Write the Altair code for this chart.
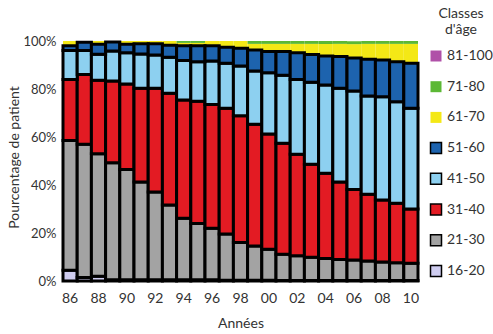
import altair as alt
import pandas as pd

years = ["86", "87", "88", "89", "90", "91", "92", "93", "94", "95", "96", "97", "98",
         "99", "00", "01", "02", "03", "04", "05", "06", "07", "08", "09", "10"]

c16_20 = [4.5, 1.5, 2.0, 0.5, 0.5, 0.5, 0.5, 0.5, 0.5, 0.5, 0.5, 0.3, 0.3,
          0.3, 0.3, 0.2, 0.2, 0.2, 0.2, 0.2, 0.2, 0.2, 0.2, 0.2, 0.2]
c21_30 = [54.0, 55.5, 51.0, 48.8, 46.0, 40.8, 36.6, 31.2, 25.6, 23.5, 21.5, 19.3, 15.7,
          14.3, 12.9, 10.9, 10.3, 9.7, 9.2, 8.8, 8.5, 8.1, 7.7, 7.4, 7.2]
c31_40 = [25.5, 29.0, 30.6, 34.0, 35.6, 39.0, 43.2, 46.5, 49.3, 50.9, 51.5, 52.4, 52.9,
          50.7, 48.1, 46.3, 42.3, 38.7, 35.5, 32.3, 29.4, 27.8, 25.9, 24.8, 22.6]
c41_50 = [12.0, 10.0, 10.9, 12.5, 13.0, 14.3, 13.9, 15.0, 16.5, 16.5, 18.2, 18.7, 20.7,
          22.2, 25.5, 28.3, 31.2, 34.2, 36.8, 39.0, 41.1, 41.0, 43.0, 42.3, 42.0]
c51_60 = [2.0, 3.5, 4.1, 3.8, 3.5, 4.3, 4.7, 5.0, 6.1, 6.6, 6.3, 6.7, 7.4,
          8.8, 8.8, 9.9, 11.1, 11.6, 12.0, 13.2, 13.7, 15.3, 15.3, 16.7, 18.7]
c61_70 = [2.0, 0.5, 1.4, 0.4, 1.4, 1.1, 1.1, 1.8, 1.2, 1.2, 2.0, 2.6, 3.0,
          2.5, 3.2, 3.2, 3.7, 4.4, 5.1, 5.3, 5.8, 6.4, 6.7, 7.4, 8.1]
c71_80 = [0, 0, 0, 0, 0, 0, 0, 0, 0.8, 0.8, 0, 0, 0,
          1.2, 1.2, 1.2, 1.2, 1.2, 1.2, 1.2, 1.2, 1.2, 1.2, 1.2, 1.2]
c81_100 = [0] * 25

classes = ["16-20", "21-30", "31-40", "41-50", "51-60", "61-70", "71-80", "81-100"]
series = [c16_20, c21_30, c31_40, c41_50, c51_60, c61_70, c71_80, c81_100]
fills = ["#cfcdf0", "#a3a3a3", "#e31b23", "#8dd0f0", "#1d63ae", "#f4e816", "#5cb835", "#b050a8"]
strokes = ["black", "black", "black", "black", "black", "transparent", "transparent", "transparent"]

# draw unstroked top classes first so black outlines stay on top
draw_order = [5, 6, 7, 0, 1, 2, 3, 4]
rows = []
for k in draw_order:
    for i, yr in enumerate(years):
        rows.append({"annee": yr, "classe": classes[k], "rang": k, "pct": series[k][i]})
df = pd.DataFrame(rows)

legend_domain = classes[::-1]
fill_range = fills[::-1]
stroke_range = strokes[::-1]

FONT = "Lato"
TXT = "#333333"

leg = alt.Legend(
    title=["Classes", "d'âge"], orient="none", legendX=366, legendY=-34,
    titleFontSize=14, titleFontWeight="normal", titleAlign="center", titleAnchor="middle",
    titleLineHeight=16, titlePadding=12, titleColor=TXT, titleFont=FONT,
    labelFontSize=14, labelFont=FONT, labelColor=TXT, labelOffset=4,
    symbolType="square", symbolSize=121, symbolStrokeWidth=1.5,
    rowPadding=12.7, padding=0,
)

chart = alt.Chart(df).mark_bar(strokeWidth=3).encode(
    x=alt.X("annee:N", sort=years,
            scale=alt.Scale(paddingInner=0, paddingOuter=0),
            axis=alt.Axis(values=years[::2], title="Années", labelAngle=0, domain=False,
                          ticks=False, labelPadding=10, labelFontSize=14, titleFontSize=14,
                          titleFontWeight="normal", titleBaseline="alphabetic", titleY=46,
                          labelFont=FONT, titleFont=FONT, labelColor=TXT, titleColor=TXT)),
    y=alt.Y("pct:Q", stack="zero",
            scale=alt.Scale(domain=[0, 100], nice=False),
            axis=alt.Axis(values=[0, 20, 40, 60, 80, 100], labelExpr="datum.value + '%'",
                          grid=False, domain=False, ticks=False, labelPadding=7,
                          title="Pourcentage de patient", titleFontSize=14,
                          titleFontWeight="normal", titleX=-42, titleY=116,
                          titleAlign="center", titleBaseline="bottom", titleAngle=270,
                          labelFontSize=13, labelFont=FONT, titleFont=FONT,
                          labelColor=TXT, titleColor=TXT)),
    fill=alt.Fill("classe:N", scale=alt.Scale(domain=legend_domain, range=fill_range), legend=leg),
    stroke=alt.Stroke("classe:N", scale=alt.Scale(domain=legend_domain, range=stroke_range), legend=leg),
    order=alt.Order("rang:Q", sort="ascending"),
).properties(
    width=355, height=240,
    autosize=alt.AutoSizeParams(type="none"),
    padding={"left": 63, "top": 41, "right": 75, "bottom": 53},
    background="white",
).configure_view(stroke=None)

chart.save("out.html", embed_options={"renderer": "svg", "actions": False})
